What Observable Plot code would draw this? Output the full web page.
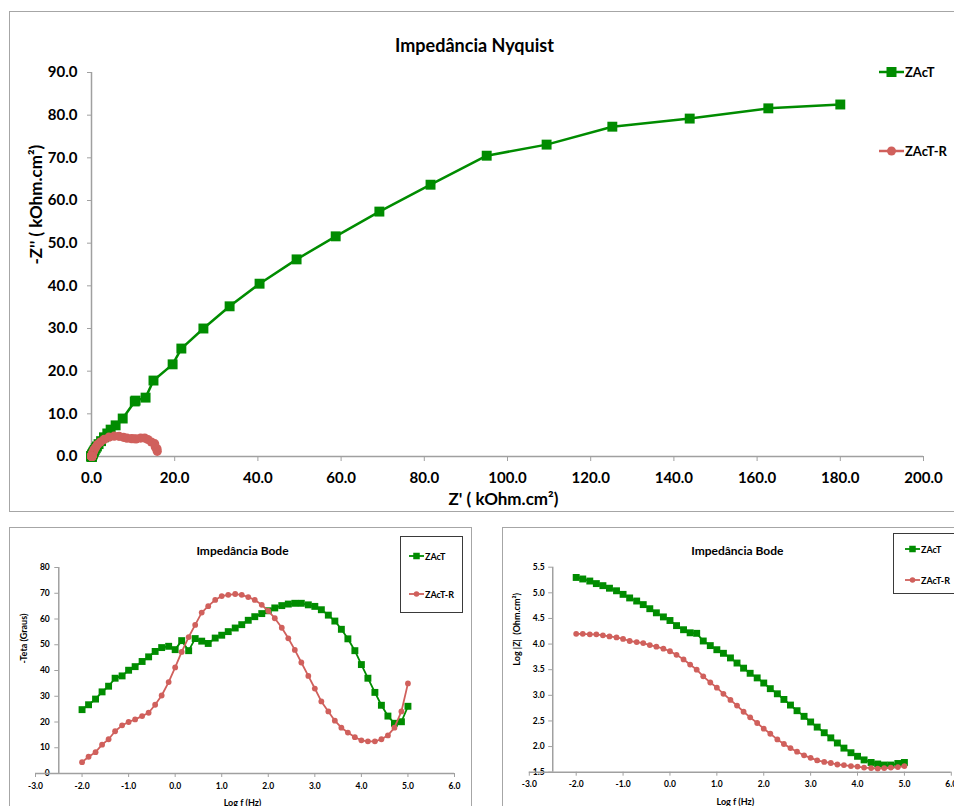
<!DOCTYPE html>
<html>
<head>
<meta charset="utf-8">
<script src="https://cdn.jsdelivr.net/npm/d3@7"></script>
<script src="https://cdn.jsdelivr.net/npm/@observablehq/plot@0.6"></script>
<style>
  html, body { margin: 0; padding: 0; background: #fff; }
  #root { position: relative; width: 954px; height: 806px; overflow: hidden; background: #fff; font-family: Lato, "Open Sans", sans-serif; font-weight: bold; }
  .frame { position: absolute; box-sizing: border-box; border: 1.5px solid #a6a6a6; }
  .lbox { position: absolute; box-sizing: border-box; border: 1.5px solid #3a3a3a; background: #fff; }
  .leg { position: absolute; display: flex; align-items: center; white-space: nowrap; color: #000; }
  .leg svg { display: block; }
</style>
</head>
<body>
<div id="root"></div>
<script>
// ---------------- DATA ----------------
const seriesNames = ["ZAcT", "ZAcT-R"];
const seriesColors = ["#008c00", "#d0605c"];

// log f (Hz), 7 points per decade, 0.01 Hz .. 100 kHz
const logF = [-2.00, -1.86, -1.71, -1.57, -1.43, -1.29, -1.14, -1.00, -0.86, -0.71,
  -0.57, -0.43, -0.29, -0.14, 0.00, 0.14, 0.29, 0.43, 0.57, 0.71,
  0.86, 1.00, 1.14, 1.29, 1.43, 1.57, 1.71, 1.86, 2.00, 2.14,
  2.29, 2.43, 2.57, 2.71, 2.86, 3.00, 3.14, 3.29, 3.43, 3.57,
  3.71, 3.86, 4.00, 4.14, 4.29, 4.43, 4.57, 4.71, 4.86, 5.00];

// -Teta (Graus)
const phaseZAcT = [24.8, 26.7, 28.9, 31.7, 33.9, 37.0, 37.9, 40.1, 41.5, 43.5,
  45.3, 47.4, 48.9, 49.4, 48.1, 51.6, 47.7, 52.4, 51.4, 50.5,
  52.6, 53.7, 55.1, 56.5, 57.8, 59.5, 60.9, 62.1, 63.2, 64.3,
  65.2, 65.8, 66.1, 66.1, 65.5, 64.9, 63.6, 61.5, 59.2, 56.0,
  52.3, 47.7, 42.3, 37.0, 31.5, 26.5, 22.3, 19.5, 20.1, 26.1];
const phaseZAcTR = [4.4, 6.5, 8.3, 11.2, 13.3, 16.4, 18.7, 20.0, 21.0, 22.3,
  23.6, 26.7, 30.3, 35.5, 41.2, 47.2, 53.0, 57.7, 62.5, 65.0,
  67.4, 68.9, 69.4, 69.7, 69.4, 68.5, 67.4, 65.5, 63.1, 60.3,
  56.6, 52.5, 48.0, 43.1, 37.9, 33.0, 28.0, 24.1, 20.5, 17.8,
  15.9, 14.1, 12.9, 12.5, 12.5, 13.3, 14.8, 17.8, 24.1, 35.0];

// Log |Z| (Ohm.cm2)
const logZZAcT = [5.30, 5.27, 5.23, 5.18, 5.14, 5.09, 5.04, 4.97, 4.90, 4.84,
  4.77, 4.69, 4.61, 4.53, 4.46, 4.36, 4.28, 4.22, 4.21, 4.06,
  3.97, 3.89, 3.82, 3.73, 3.63, 3.53, 3.43, 3.34, 3.24, 3.13,
  3.03, 2.92, 2.81, 2.70, 2.59, 2.48, 2.38, 2.27, 2.17, 2.07,
  1.97, 1.88, 1.81, 1.74, 1.69, 1.66, 1.64, 1.64, 1.67, 1.69];
const logZZAcTR = [4.20, 4.20, 4.19, 4.19, 4.17, 4.15, 4.13, 4.10, 4.06, 4.04,
  4.02, 3.98, 3.95, 3.91, 3.86, 3.79, 3.70, 3.60, 3.50, 3.37,
  3.25, 3.15, 3.03, 2.91, 2.80, 2.68, 2.57, 2.46, 2.35, 2.25,
  2.14, 2.05, 1.97, 1.90, 1.83, 1.78, 1.73, 1.70, 1.68, 1.65,
  1.64, 1.62, 1.61, 1.59, 1.58, 1.57, 1.58, 1.59, 1.60, 1.62];

// Nyquist: Z' and -Z'' (kOhm.cm2)
const nyqReZAcT = [180.0, 162.7, 143.8, 125.2, 109.4, 95.0, 81.5, 69.2, 58.7, 49.3,
  40.4, 33.2, 26.9, 21.6, 19.5, 14.9, 13.0, 10.6, 10.4, 7.5,
  5.8, 4.6, 3.8, 3.0, 2.3, 1.7, 1.3, 1.02, 0.78, 0.58,
  0.45, 0.34, 0.26, 0.20, 0.16, 0.13, 0.11, 0.09, 0.08, 0.066,
  0.058, 0.051, 0.047, 0.044, 0.042, 0.041, 0.041, 0.041, 0.042, 0.044];
const nyqImZAcT = [82.5, 81.6, 79.2, 77.3, 73.1, 70.5, 63.7, 57.4, 51.6, 46.2,
  40.5, 35.2, 30.0, 25.3, 21.6, 17.8, 13.8, 13.1, 12.9, 8.9,
  7.3, 6.3, 5.4, 4.5, 3.6, 2.9, 2.35, 1.93, 1.55, 1.21,
  0.97, 0.76, 0.59, 0.46, 0.35, 0.27, 0.21, 0.16, 0.12, 0.097,
  0.075, 0.056, 0.043, 0.033, 0.026, 0.020, 0.017, 0.015, 0.016, 0.021];
const nyqReZAcTR = [15.80, 15.75, 15.33, 15.19, 14.39, 13.55, 12.78, 11.83, 10.72, 10.14,
  9.60, 8.53, 7.69, 6.62, 5.45, 4.19, 3.02, 2.13, 1.46, 0.99,
  0.68, 0.51, 0.38, 0.28, 0.22, 0.18, 0.14, 0.12, 0.10, 0.088,
  0.076, 0.068, 0.062, 0.058, 0.053, 0.050, 0.047, 0.046, 0.045, 0.044,
  0.043, 0.042, 0.041, 0.040, 0.039, 0.038, 0.038, 0.039, 0.040, 0.042];
const nyqImZAcTR = [1.22, 1.79, 2.24, 3.01, 3.40, 3.99, 4.32, 4.31, 4.11, 4.16,
  4.19, 4.29, 4.50, 4.72, 4.77, 4.53, 4.00, 3.37, 2.80, 2.12,
  1.64, 1.32, 1.00, 0.76, 0.59, 0.45, 0.34, 0.26, 0.20, 0.155,
  0.115, 0.089, 0.069, 0.054, 0.042, 0.033, 0.025, 0.020, 0.017, 0.015,
  0.013, 0.012, 0.011, 0.010, 0.010, 0.010, 0.011, 0.014, 0.020, 0.029];

// tick labels
const nyqXTicks = [0, 20, 40, 60, 80, 100, 120, 140, 160, 180, 200];
const nyqYTicks = [0, 10, 20, 30, 40, 50, 60, 70, 80, 90];
const bodeXTicks = [-3, -2, -1, 0, 1, 2, 3, 4, 5, 6];
const phaseTicks = [0, 10, 20, 30, 40, 50, 60, 70, 80];
const logZTicks = [1.5, 2.0, 2.5, 3.0, 3.5, 4.0, 4.5, 5.0, 5.5];

// texts
const nyqTitle = "Impedância Nyquist";
const nyqXLabel = "Z' ( kOhm.cm²)";
const nyqYLabel = "-Z'' ( kOhm.cm²)";
const bodeTitle = "Impedância Bode";
const bodeXLabel = "Log f (Hz)";
const phaseYLabel = "-Teta (Graus)";
const logZYLabel = "Log |Z|  (Ohm.cm²)";

// ---------------- BUILD ----------------
const FONT = "Lato, 'Open Sans', sans-serif";
const AXIS = "#a0a0a0";
const [GREEN, RED] = seriesColors;
const f1 = d => d.toFixed(1);

const nyqA = logF.map((f, i) => ({x: nyqReZAcT[i], y: nyqImZAcT[i]}));
const nyqB = logF.map((f, i) => ({x: nyqReZAcTR[i], y: nyqImZAcTR[i]}));
const phA = logF.map((f, i) => ({x: f, y: phaseZAcT[i]}));
const phB = logF.map((f, i) => ({x: f, y: phaseZAcTR[i]}));
const lzA = logF.map((f, i) => ({x: f, y: logZZAcT[i]}));
const lzB = logF.map((f, i) => ({x: f, y: logZZAcTR[i]}));

const root = document.getElementById("root");

function addDiv(cls, css) {
  const d = document.createElement("div");
  d.className = cls;
  Object.assign(d.style, css);
  root.appendChild(d);
  return d;
}

// panel frames
addDiv("frame", {left: "9px", top: "11px", width: "970px", height: "501px"});
addDiv("frame", {left: "9px", top: "527px", width: "463px", height: "300px"});
addDiv("frame", {left: "502px", top: "527px", width: "480px", height: "300px"});

function place(svg, left, top) {
  svg.style.position = "absolute";
  svg.style.left = left + "px";
  svg.style.top = top + "px";
  svg.style.overflow = "visible";
  root.appendChild(svg);
}

const label = (txt, opts) => Plot.text([txt], {text: d => d, lineAnchor: "middle", fill: "#000", ...opts});

// ---- Nyquist ----
const nyq = Plot.plot({
  width: 954, height: 520,
  marginLeft: 91, marginRight: 31, marginTop: 72, marginBottom: 64,
  x: {domain: [0, 200]},
  y: {domain: [0, 90]},
  style: {fontFamily: FONT, fontSize: "15px", fontWeight: "bold", background: "transparent", color: "#000"},
  marks: [
    Plot.axisX(nyqXTicks, {tickFormat: f1, tickSize: 5, tickPadding: 11, stroke: AXIS, fill: "#000", label: null, fontSize: 15}),
    Plot.axisY(nyqYTicks, {tickFormat: f1, tickSize: 4, tickPadding: 10, stroke: AXIS, fill: "#000", label: null, fontSize: 15}),
    Plot.ruleY([0], {stroke: AXIS, strokeWidth: 1.5}),
    Plot.ruleX([0], {stroke: AXIS, strokeWidth: 1.5}),
    Plot.line(nyqA, {x: "x", y: "y", stroke: GREEN, strokeWidth: 2.5}),
    Plot.dot(nyqA, {x: "x", y: "y", symbol: "square", fill: GREEN, r: 5.6}),
    Plot.line(nyqB, {x: "x", y: "y", stroke: RED, strokeWidth: 2.5}),
    Plot.dot(nyqB, {x: "x", y: "y", symbol: "circle", fill: RED, r: 4.6}),
    label(nyqTitle, {frameAnchor: "top", dx: -33, dy: -26, fontSize: 18}),
    label(nyqXLabel, {frameAnchor: "bottom", dx: -4, dy: 43, fontSize: 17}),
    label(nyqYLabel, {frameAnchor: "left", rotate: -90, dx: -55, dy: 0, fontSize: 17})
  ]
});
place(nyq, 0, 0);

// ---- Bode phase ----
const bode1 = Plot.plot({
  width: 480, height: 286,
  marginLeft: 35, marginRight: 26, marginTop: 47, marginBottom: 33,
  x: {domain: [-3, 6]},
  y: {domain: [0, 80]},
  style: {fontFamily: FONT, fontSize: "9px", fontWeight: "bold", background: "transparent", color: "#000"},
  marks: [
    Plot.axisX(bodeXTicks, {tickFormat: f1, tickSize: 4, tickPadding: 5, stroke: AXIS, fill: "#000", label: null, fontSize: 8.5}),
    Plot.axisY(phaseTicks, {tickFormat: d => String(d), tickSize: 4, tickPadding: 5, dx: 23.3, stroke: AXIS, fill: "#000", label: null, fontSize: 8.5}),
    Plot.ruleY([0], {stroke: AXIS, strokeWidth: 1.5}),
    Plot.ruleX([-2.5], {stroke: AXIS, strokeWidth: 1.5}),
    Plot.line(phA, {x: "x", y: "y", stroke: GREEN, strokeWidth: 1.8}),
    Plot.dot(phA, {x: "x", y: "y", symbol: "square", fill: GREEN, r: 3.9}),
    Plot.line(phB, {x: "x", y: "y", stroke: RED, strokeWidth: 1.8}),
    Plot.dot(phB, {x: "x", y: "y", symbol: "circle", fill: RED, r: 2.9}),
    label(bodeTitle, {frameAnchor: "top", dx: -2.5, dy: -16, fontSize: 12}),
    label(bodeXLabel, {frameAnchor: "bottom", dx: -2.5, dy: 30, fontSize: 9}),
    label(phaseYLabel, {frameAnchor: "left", rotate: -90, dx: -11, dy: -7, fontSize: 9})
  ]
});
place(bode1, 0, 520);

// ---- Bode modulus ----
const bode2 = Plot.plot({
  width: 474, height: 286,
  marginLeft: 48.8, marginRight: 3.2, marginTop: 46.7, marginBottom: 34.3,
  x: {domain: [-3, 6]},
  y: {domain: [1.5, 5.5]},
  style: {fontFamily: FONT, fontSize: "9px", fontWeight: "bold", background: "transparent", color: "#000"},
  marks: [
    Plot.axisX(bodeXTicks, {tickFormat: f1, tickSize: 4, tickPadding: 5, stroke: AXIS, fill: "#000", label: null, fontSize: 8.5}),
    Plot.axisY(logZTicks, {tickFormat: f1, tickSize: 4, tickPadding: 4, dx: 23.4, stroke: AXIS, fill: "#000", label: null, fontSize: 8.5}),
    Plot.ruleY([1.5], {stroke: AXIS, strokeWidth: 1.5}),
    Plot.ruleX([-2.5], {stroke: AXIS, strokeWidth: 1.5}),
    Plot.line(lzA, {x: "x", y: "y", stroke: GREEN, strokeWidth: 1.8}),
    Plot.dot(lzA, {x: "x", y: "y", symbol: "square", fill: GREEN, r: 3.9}),
    Plot.line(lzB, {x: "x", y: "y", stroke: RED, strokeWidth: 1.8}),
    Plot.dot(lzB, {x: "x", y: "y", symbol: "circle", fill: RED, r: 2.9}),
    label(bodeTitle, {frameAnchor: "top", dx: -3, dy: -15.7, fontSize: 12}),
    label(bodeXLabel, {frameAnchor: "bottom", dx: -5, dy: 30, fontSize: 9}),
    label(logZYLabel, {frameAnchor: "left", rotate: -90, dx: -12, dy: -4, fontSize: 9})
  ]
});
place(bode2, 480, 520);

// ---- legends (HTML) ----
function legendItem(left, centerY, lineLen, color, symbol, size, lineW, text, fontSize) {
  const item = addDiv("leg", {left: left + "px", top: (centerY - 10) + "px", height: "20px", fontSize: fontSize + "px"});
  const ns = "http://www.w3.org/2000/svg";
  const s = document.createElementNS(ns, "svg");
  s.setAttribute("width", lineLen);
  s.setAttribute("height", 20);
  const ln = document.createElementNS(ns, "line");
  ln.setAttribute("x1", 0); ln.setAttribute("x2", lineLen);
  ln.setAttribute("y1", 10); ln.setAttribute("y2", 10);
  ln.setAttribute("stroke", color); ln.setAttribute("stroke-width", lineW);
  s.appendChild(ln);
  let m;
  if (symbol === "square") {
    m = document.createElementNS(ns, "rect");
    m.setAttribute("x", lineLen / 2 - size / 2); m.setAttribute("y", 10 - size / 2);
    m.setAttribute("width", size); m.setAttribute("height", size);
  } else {
    m = document.createElementNS(ns, "circle");
    m.setAttribute("cx", lineLen / 2); m.setAttribute("cy", 10); m.setAttribute("r", size / 2);
  }
  m.setAttribute("fill", color);
  s.appendChild(m);
  item.appendChild(s);
  const t = document.createElement("span");
  t.textContent = text;
  t.style.marginLeft = "1px";
  item.appendChild(t);
}

// Nyquist legend
legendItem(879, 72, 25, GREEN, "square", 10, 2.5, seriesNames[0], 13);
legendItem(879, 151, 25, RED, "circle", 9, 2.5, seriesNames[1], 13);

// Bode phase legend
addDiv("lbox", {left: "400px", top: "536px", width: "63px", height: "77px"});
legendItem(409, 556, 15, GREEN, "square", 6.5, 1.8, seriesNames[0], 9);
legendItem(409, 594, 15, RED, "circle", 5.5, 1.8, seriesNames[1], 9);

// Bode modulus legend
addDiv("lbox", {left: "893px", top: "533px", width: "80px", height: "61px"});
legendItem(905, 549, 15, GREEN, "square", 6.5, 1.8, seriesNames[0], 9);
legendItem(905, 580, 15, RED, "circle", 5.5, 1.8, seriesNames[1], 9);
</script>
</body>
</html>
